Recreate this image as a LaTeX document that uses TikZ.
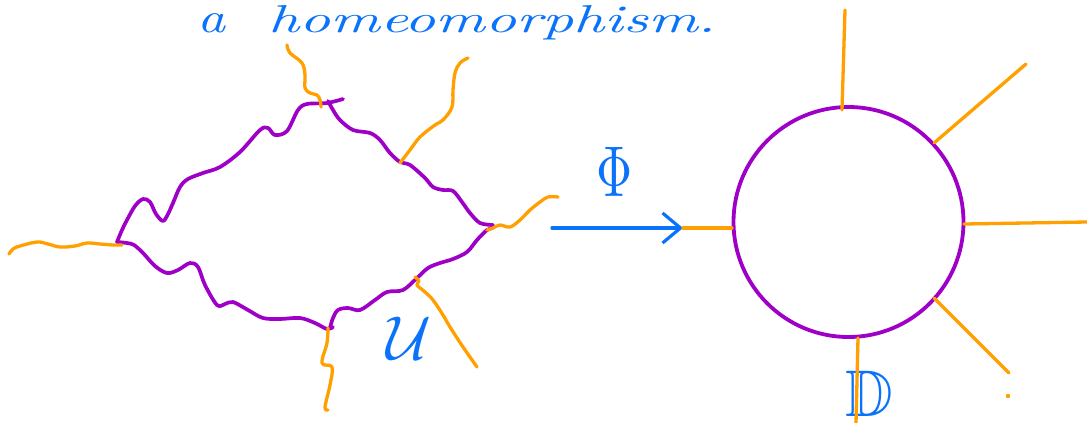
\documentclass[tikz,border=0pt]{standalone}
\usepackage{fontspec}
\usepackage{amssymb}
\usetikzlibrary{arrows.meta}
\definecolor{hpurple}{RGB}{158,0,200}
\definecolor{horange}{RGB}{255,160,0}
\definecolor{hblue}{RGB}{10,115,250}
\tikzset{
  pcurve/.style={draw=hpurple,line width=3.7pt,line cap=round,line join=round},
  ocurve/.style={draw=horange,line width=3.3pt,line cap=round,line join=round},
  bluetext/.style={text=hblue,inner sep=0pt},
  titletext/.style={bluetext,anchor=base west},
}
\begin{document}
\begin{tikzpicture}[x=1pt,y=-1pt]
\useasboundingbox (0,0) rectangle (1087,423);
% title
\node[titletext] (title1) at (197,33) {\resizebox{28pt}{19pt}{\itshape a}};
\node[titletext] (title2) at (268,32) {\resizebox{448pt}{27pt}{\itshape homeomorphism.}};
% ---------- left: wavy region U ----------
% upper-left branch
\draw[pcurve] plot[smooth,tension=0.55] coordinates {(117,242) (122,230) (127,220) (135,206) (143,199) (150,202) (156,214) (163,221) (168,214) (173,203) (180,187) (188,179) (203,173) (220,167) (240,152) (260,130) (268,128) (275,135) (287,131) (298,110) (307,104) (327,103) (343,99)};
% upper-right branch
\draw[pcurve] plot[smooth,tension=0.55] coordinates {(328,101) (333,110) (340,120) (353,130) (370,133) (380,140) (390,153) (400,162) (410,165) (425,178) (433,187) (443,190) (453,191) (462,202) (470,213) (480,223) (493,225)};
% lower-left branch
\draw[pcurve] plot[smooth,tension=0.55] coordinates {(117,242) (127,243) (134,245) (143,253) (155,266) (167,273) (178,270) (190,263) (198,267) (205,285) (217,305) (225,304) (233,302) (248,310) (263,318) (280,319) (300,318) (315,323) (327,329) (333,327)};
% lower-right branch
\draw[pcurve] plot[smooth,tension=0.55] coordinates {(330,328) (333,318) (338,310) (348,308) (360,310) (375,300) (387,292) (403,290) (417,278) (428,268) (440,263) (453,259) (467,252) (477,240) (487,230) (493,228)};
% orange legs
\draw[ocurve] plot[smooth,tension=0.6] coordinates {(9,254) (13,249) (20,246) (37,242) (48,244) (60,247) (75,246) (87,243) (100,244) (113,245) (122,245)};
\draw[ocurve] plot[smooth,tension=0.6] coordinates {(287,45) (290,53) (302,63) (305,75) (305,88) (310,93) (317,95) (320,100) (321,107)};
\draw[ocurve] plot[smooth,tension=0.6] coordinates {(400,163) (410,150) (420,137) (435,125) (443,120) (452,107) (453,90) (455,73) (460,63) (468,58)};
\draw[ocurve] plot[smooth,tension=0.6] coordinates {(487,230) (493,228) (500,225) (510,227) (520,220) (530,210) (540,202) (548,197) (558,197)};
\draw[ocurve] plot[smooth,tension=0.6] coordinates {(415,277) (419,281) (417,285) (425,292) (433,300) (443,315) (450,327) (463,347) (477,367)};
\draw[ocurve] plot[smooth,tension=0.6] coordinates {(328,328) (327,343) (322,363) (332,367) (330,385) (325,407) (328,410)};
\node[bluetext] (U) at (409,338) {\scalebox{6.2}{$\mathcal{U}$}};
% ---------- arrow Phi ----------
\coordinate (as) at (552,228);
\coordinate (ae) at (683,228);
\draw[hblue,line width=3.2pt,line cap=round,-{Straight Barb[length=18pt,width=30pt,line width=3.2pt]}] (as) -- (ae);
\node[bluetext] (phi) at (615,172) {\scalebox{5}[7.2]{$\Phi$}};
% ---------- right: disc D ----------
\node[circle,draw=hpurple,line width=3.8pt,minimum size=230pt,inner sep=0pt] (disc) at (848.5,222) {};
\coordinate (t1) at (845,10);
\coordinate (t2) at (1026,64);
\coordinate (t3) at (1087,222);
\coordinate (t4) at (1009,373);
\coordinate (t5) at (856,423);
\draw[ocurve] (842,110) -- (t1);
\draw[ocurve] (934,143) -- (t2);
\draw[ocurve] (964,224) -- (t3);
\draw[ocurve] (934,298) -- (t4);
\draw[ocurve] (ae) -- (732,228);
\fill[horange] (1008,396) circle (2.2pt);
\node[bluetext] (D) at (869,394) {\scalebox{6.6}{$\mathbb{D}$}};
\draw[ocurve] (858,338) -- (t5);
\end{tikzpicture}
\end{document}
